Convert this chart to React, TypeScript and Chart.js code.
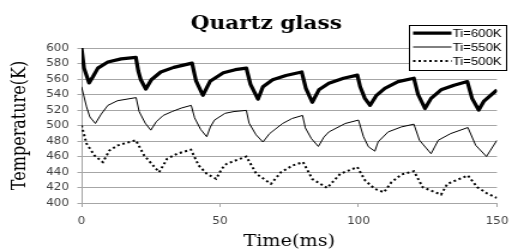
import React, { useEffect, useRef } from "react";
import { Chart, registerables } from "chart.js";

Chart.register(...registerables);

const chartTitle = "Quartz glass";
const xTitle = "Time(ms)";
const yTitle = "Temperature(K)";
const seriesLabels = ["Ti=600K", "Ti=550K", "Ti=500K"];
const xTicks = [0, 50, 100, 150];
const yTicks = [400, 420, 440, 460, 480, 500, 520, 540, 560, 580, 600];

const time600 = [0, 0.9, 2.7, 4.1, 5.9, 9.5, 14.3, 19.6, 20.5, 21.4, 23.2, 25.2, 28.6, 33.3, 39.9, 41.3, 43.8, 46.4, 51.2, 55.5, 59.5, 61, 63.7, 65.5, 69, 73.8, 79.5, 81, 83.3, 85.7, 89.3, 94.6, 99.6, 100.6, 102.3, 104.2, 106.5, 109.5, 114.3, 120, 121.5, 124, 126.2, 129.8, 134.5, 139.3, 141, 143.4, 145.2, 150];
const temp600 = [600, 574, 555, 563, 574, 582, 586, 588, 570, 559, 547, 559, 569, 575, 580.5, 558, 539, 557, 568, 572, 574, 553, 534, 550, 559, 564.5, 569, 548, 530, 546, 554.5, 561, 565, 550, 535, 526, 539, 548, 556.7, 561, 540, 522, 535, 546, 552, 556.7, 535, 520, 531, 546];

const time550 = [0, 1.8, 3, 5, 7.1, 9.5, 13, 19.7, 20.8, 23, 25, 27, 29.5, 32.7, 36, 39.6, 40.8, 43, 45.2, 46.5, 48, 51.8, 55, 59.5, 60.5, 63, 65.5, 67.9, 72.6, 76, 79.8, 80.8, 83, 85.5, 87.5, 89.3, 95.2, 100, 101.8, 103.6, 105.9, 107.1, 110.7, 115.5, 120, 122, 126.2, 128.8, 133.3, 139.5, 142.3, 146.2, 150];
const temp550 = [550, 524, 511, 502.6, 514.7, 526, 532, 536, 518, 503, 494, 505, 513, 518, 522.5, 526, 510, 495, 485.5, 498, 507, 515.7, 518, 519.5, 503, 488, 478.7, 489.6, 502.6, 509, 513, 497, 483, 473, 485, 491.7, 502.6, 507, 485.5, 472.5, 466.9, 479, 491.7, 498.2, 501.7, 481, 463.6, 481, 489.6, 497.4, 474.5, 460, 481];

const time500 = [0, 1.8, 4.75, 7.7, 10.1, 13.1, 19.6, 22.6, 28, 30.9, 34.5, 39.5, 42.3, 45.2, 48.6, 50.6, 52.4, 59.5, 63.1, 68.4, 72, 76.2, 80, 83.3, 88.7, 93.4, 99.6, 102.4, 105.9, 109.2, 111.9, 115.5, 120, 123.2, 129.8, 132.1, 139.5, 142.9, 146.4, 150];
const temp500 = [500, 476.6, 461, 452.7, 467.9, 474.4, 481, 461.4, 439.7, 457, 463.6, 468.8, 448.4, 437.7, 431.2, 444, 450.6, 460, 437.7, 424.7, 439.7, 448.4, 452.7, 431, 419.4, 437.7, 446.3, 429, 418.2, 413.8, 426.8, 436.8, 441, 420.3, 410.8, 424.7, 435.5, 420.3, 412.5, 406.5];

const toPoints = (t: number[], v: number[]) => t.map((x, i) => ({ x, y: v[i] }));

const CANVAS_W = 432;
const CANVAS_H = 251;

const decorPlugin = {
  id: "decor",
  afterDraw(chart: any) {
    const ctx = chart.ctx as CanvasRenderingContext2D;
    const a = chart.chartArea;
    ctx.save();
    ctx.fillStyle = "#000";
    ctx.textAlign = "center";
    ctx.textBaseline = "alphabetic";
    ctx.font = 'bold 18px "DejaVu Serif"';
    ctx.fillText(chartTitle, 222, 28.5);
    ctx.font = '16px "DejaVu Serif"';
    ctx.fillText(xTitle, (a.left + a.right) / 2, 245.5);
    ctx.save();
    ctx.translate(16.7, (a.top + a.bottom) / 2);
    ctx.rotate(-Math.PI / 2);
    ctx.textBaseline = "middle";
    ctx.fillText(yTitle, 0, 0);
    ctx.restore();

    // legend
    const bx = 341, by = 25, bw = 81, bh = 45;
    ctx.fillStyle = "#fff";
    ctx.fillRect(bx, by, bw, bh);
    ctx.strokeStyle = "#000";
    ctx.lineWidth = 1;
    ctx.strokeRect(bx + 0.5, by + 0.5, bw, bh);
    const rows = [33, 47, 61];
    chart.data.datasets.forEach((ds: any, i: number) => {
      const y = rows[i];
      ctx.save();
      ctx.strokeStyle = ds.borderColor;
      ctx.lineWidth = ds.borderWidth;
      ctx.setLineDash(ds.borderDash || []);
      ctx.lineCap = "butt";
      ctx.beginPath();
      ctx.moveTo(344.5, y);
      ctx.lineTo(376.5, y);
      ctx.stroke();
      ctx.restore();
      ctx.fillStyle = "#000";
      ctx.font = '11px "Liberation Sans"';
      ctx.textAlign = "left";
      ctx.textBaseline = "middle";
      ctx.fillText(ds.label, 377.5, y + 0.5);
    });
    ctx.restore();
  },
};

export default function App() {
  const ref = useRef<HTMLCanvasElement>(null);
  useEffect(() => {
    if (!ref.current) return;
    const gridColor = "#a6a6a6";
    const tickFont = { family: '"DejaVu Sans"', size: 10 };
    const chart = new Chart(ref.current, {
      type: "line",
      data: {
        datasets: [
          {
            label: seriesLabels[0],
            data: toPoints(time600, temp600),
            borderColor: "#000",
            borderWidth: 3.25,
            pointRadius: 0,
            tension: 0,
            borderJoinStyle: "round",
          },
          {
            label: seriesLabels[1],
            data: toPoints(time550, temp550),
            borderColor: "#000",
            borderWidth: 1,
            pointRadius: 0,
            tension: 0,
          },
          {
            label: seriesLabels[2],
            data: toPoints(time500, temp500),
            borderColor: "#000",
            borderWidth: 2,
            borderDash: [2, 2.5],
            borderCapStyle: "butt",
            pointRadius: 0,
            tension: 0,
          },
        ],
      },
      options: {
        responsive: false,
        animation: false,
        devicePixelRatio: 1,
        layout: { padding: { top: 48, right: 13.6, left: 0, bottom: 0 } },
        plugins: {
          legend: { display: false },
          title: { display: false },
          tooltip: { enabled: false },
        },
        scales: {
          x: {
            type: "linear",
            min: 0,
            max: 150,
            afterBuildTicks: (s: any) => {
              s.ticks = xTicks.map((v) => ({ value: v }));
            },
            afterFit: (s: any) => {
              s.height = 48;
            },
            ticks: { font: tickFont, color: "#404040", padding: 8, maxRotation: 0 },
            grid: { drawOnChartArea: false, drawTicks: true, tickLength: 4, color: gridColor },
            border: { display: true, color: gridColor, width: 1 },
          },
          y: {
            type: "linear",
            min: 400,
            max: 600,
            afterBuildTicks: (s: any) => {
              s.ticks = yTicks.map((v) => ({ value: v }));
            },
            afterFit: (s: any) => {
              s.width = 68;
            },
            ticks: { font: tickFont, color: "#404040", padding: 7 },
            grid: { drawTicks: true, tickLength: 3.5, color: gridColor },
            border: { display: true, color: gridColor, width: 1 },
          },
        },
      },
      plugins: [decorPlugin],
    } as any);
    return () => chart.destroy();
  }, []);
  return (
    <div style={{ position: "fixed", left: 0, top: 0, width: 518, height: 251, background: "#fff" }}>
      <canvas
        ref={ref}
        width={CANVAS_W}
        height={CANVAS_H}
        style={{ width: "518px", height: "251px", display: "block" }}
      />
    </div>
  );
}
